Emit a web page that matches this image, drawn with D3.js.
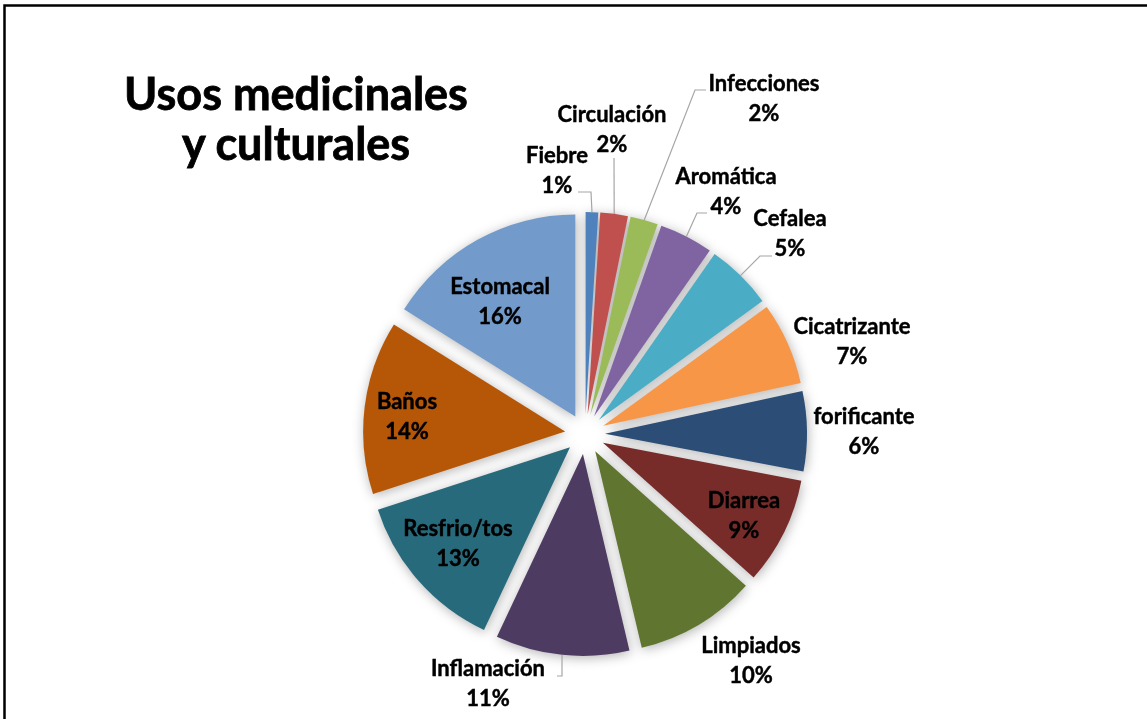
<!DOCTYPE html>
<html>
<head>
<meta charset="utf-8">
<script src="https://cdn.jsdelivr.net/npm/d3@7"></script>
<style>
  html, body { margin: 0; padding: 0; background: #fff; }
  svg { display: block; }
  text { font-family: Lato, "Open Sans", "DejaVu Sans", sans-serif; font-weight: 700; fill: #000; stroke: #000; stroke-width: 0.45px; }
</style>
</head>
<body>
<svg id="chart" width="1147" height="719"></svg>
<script>
// Usos medicinales y culturales — share of each use (%)
const categories = ["Fiebre", "Circulación", "Infecciones", "Aromática", "Cefalea", "Cicatrizante",
                    "forificante", "Diarrea", "Limpiados", "Inflamación", "Resfrio/tos", "Baños", "Estomacal"];
const values = [1.0, 2.2, 2.2, 4.3, 5.3, 6.6, 6.4, 8.6, 9.7, 10.7, 13.0, 13.9, 16.1];
const colors = ["#4F81BD", "#C0504D", "#9BBB59", "#8064A2", "#4BACC6", "#F79646",
                "#2C4D75", "#772C2A", "#5F7530", "#4D3B62", "#276A7C", "#B65708", "#729ACA"];
const titleLines = ["Usos medicinales", "y culturales"];

// Label placement: text centre x and first baseline; optional leader start/elbow
const labelLayout = {
  "Fiebre":       { x: 557, y: 163, leader: [[578, 192], [591, 192]] },
  "Circulación":  { x: 612, y: 122, leader: [[614, 158]] },
  "Infecciones":  { x: 764, y: 91,  leader: [[706, 90], [695, 90]] },
  "Aromática":    { x: 726, y: 184, leader: [[707, 213], [697, 213]] },
  "Cefalea":      { x: 790, y: 226, leader: [[772, 256], [760, 256]] },
  "Cicatrizante": { x: 852, y: 334 },
  "forificante":  { x: 864, y: 424 },
  "Diarrea":      { x: 744, y: 508 },
  "Limpiados":    { x: 751, y: 653 },
  "Inflamación":  { x: 488, y: 676, leader: [[557, 676], [562, 676]] },
  "Resfrio/tos":  { x: 458, y: 536 },
  "Baños":        { x: 407, y: 409 },
  "Estomacal":    { x: 500, y: 294 }
};

const svg = d3.select("#chart");
const W = 1147, H = 719;
const cx = 585, cy = 434, radius = 202, explode = 20, lineGap = 29.5;

// chart frame
svg.append("rect")
  .attr("x", 4.5).attr("y", 5.5)
  .attr("width", W + 20).attr("height", H + 20)
  .attr("fill", "#fff").attr("stroke", "#000").attr("stroke-width", 2.5);

const defs = svg.append("defs");
const blur = defs.append("filter").attr("id", "softShadow")
  .attr("x", "-30%").attr("y", "-30%").attr("width", "160%").attr("height", "160%");
blur.append("feGaussianBlur").attr("stdDeviation", 6);

const total = d3.sum(values);
const data = categories.map((c, i) => ({ name: c, value: values[i], color: colors[i] }));
const pie = d3.pie().value(d => d.value).sort(null).startAngle(0).endAngle(2 * Math.PI);
const arcs = pie(data);
const arc = d3.arc().innerRadius(0).outerRadius(radius);

const mid = a => (a.startAngle + a.endAngle) / 2;
const shift = a => [explode * Math.sin(mid(a)), -explode * Math.cos(mid(a))];

const g = svg.append("g").attr("transform", `translate(${cx},${cy})`);

// soft shadow under the exploded slices
g.append("g").attr("filter", "url(#softShadow)")
  .selectAll("path").data(arcs).join("path")
  .attr("transform", a => { const s = shift(a); return `translate(${s[0] + 1},${s[1] + 2})`; })
  .attr("d", arc)
  .attr("fill", "#000").attr("fill-opacity", 0.3);

// slices
g.append("g").selectAll("path").data(arcs).join("path")
  .attr("transform", a => { const s = shift(a); return `translate(${s[0]},${s[1]})`; })
  .attr("d", arc)
  .attr("fill", a => a.data.color);

// leader lines end at the outer midpoint of their slice
const leaders = svg.append("g");
arcs.forEach(a => {
  const lay = labelLayout[a.data.name];
  if (!lay || !lay.leader) return;
  const rr = radius + explode;
  const end = [cx + rr * Math.sin(mid(a)), cy - rr * Math.cos(mid(a))];
  const pts = lay.leader.concat([end]);
  leaders.append("path")
    .attr("d", d3.line()(pts))
    .attr("fill", "none").attr("stroke", "#a6a6a6").attr("stroke-width", 1.2);
});

// data labels: name and rounded percentage
const labels = svg.append("g");
arcs.forEach(a => {
  const lay = labelLayout[a.data.name];
  const pct = Math.round(a.data.value / total * 100);
  const t = labels.append("text")
    .attr("text-anchor", "middle")
    .attr("font-size", 22);
  t.append("tspan").attr("x", lay.x).attr("y", lay.y).text(a.data.name);
  t.append("tspan").attr("x", lay.x).attr("y", lay.y + lineGap).text(pct + "%");
});

// title
const title = svg.append("text")
  .attr("text-anchor", "middle")
  .attr("font-size", 45)
  .style("stroke-width", "0.8px");
titleLines.forEach((s, i) => {
  title.append("tspan").attr("x", 296).attr("y", 110 + i * 50).text(s);
});
</script>
</body>
</html>
